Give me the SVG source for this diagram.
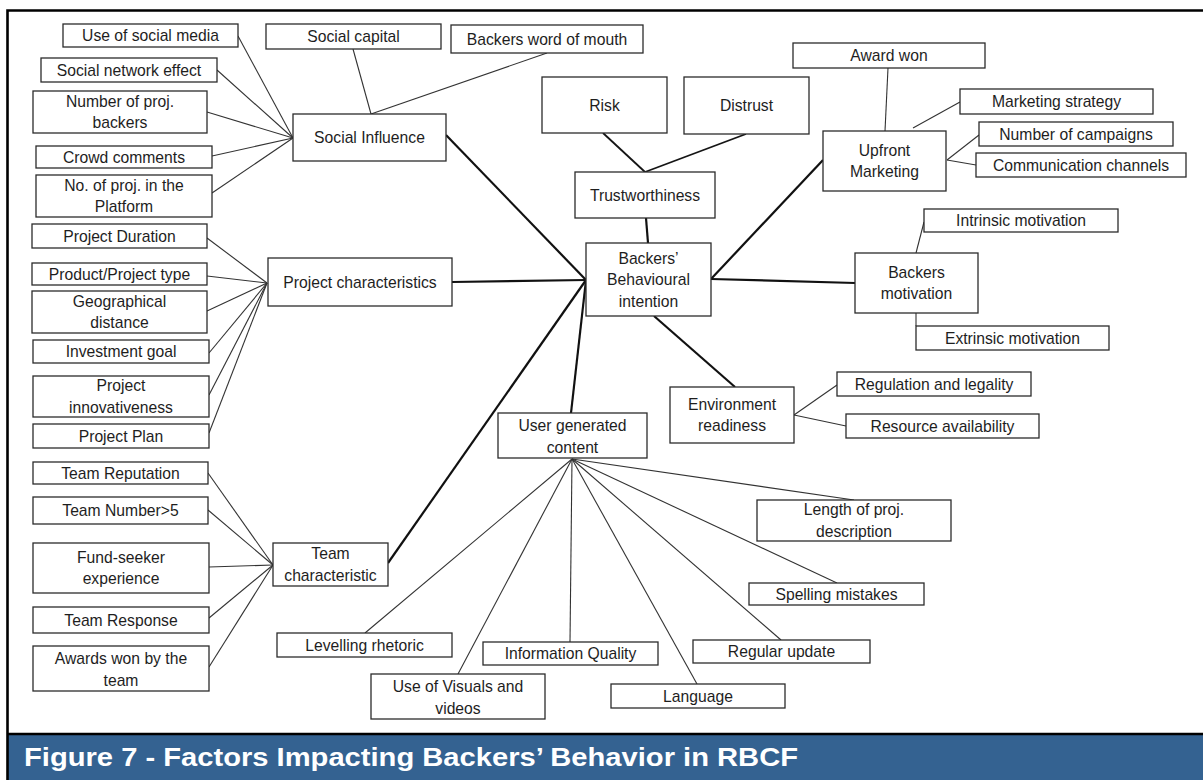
<svg xmlns="http://www.w3.org/2000/svg" width="1203" height="780" viewBox="0 0 1203 780">
  <style>
    .box { fill: #ffffff; stroke: #2b2b2b; stroke-width: 1.3; }
    .lbl { font-family: "Liberation Sans", Arial, sans-serif; font-size: 15.7px; fill: #1e1e1e; text-anchor: middle; }
    .thin { stroke: #333333; stroke-width: 1.1; fill: none; }
    .mid { stroke: #151515; stroke-width: 1.8; fill: none; }
    .main { stroke: #111111; stroke-width: 2.2; fill: none; }
    .title { font-family: "Liberation Sans", Arial, sans-serif; font-size: 25px; font-weight: bold; fill: #ffffff; }
  </style>

  <!-- page background and frame -->
  <rect x="0" y="0" width="1203" height="780" fill="#ffffff"/>
  <rect x="8" y="735" width="1195" height="45" fill="#346291"/>
  <path d="M7.5 780 V10.5 H1203" fill="none" stroke="#000000" stroke-width="2.6"/>
  <line x1="7.5" y1="734" x2="1203" y2="734" stroke="#000000" stroke-width="2.6"/>
  <text class="title" x="24" y="766" textLength="774" lengthAdjust="spacingAndGlyphs">Figure 7 - Factors Impacting Backers’ Behavior in RBCF</text>

  <!-- connectors -->
  <g id="connectors">
    <!-- social influence factors -->
    <line class="thin" x1="238" y1="36" x2="293" y2="138"/>
    <line class="thin" x1="217" y1="70" x2="293" y2="138"/>
    <line class="thin" x1="207" y1="112" x2="293" y2="138"/>
    <line class="thin" x1="212" y1="156" x2="293" y2="138"/>
    <line class="thin" x1="212" y1="193" x2="293" y2="138"/>
    <line class="thin" x1="353" y1="49" x2="371" y2="114"/>
    <line class="thin" x1="547" y1="53" x2="371" y2="114"/>
    <!-- project characteristics factors -->
    <line class="thin" x1="207" y1="238" x2="267" y2="283"/>
    <line class="thin" x1="207" y1="276" x2="267" y2="283"/>
    <line class="thin" x1="207" y1="311" x2="267" y2="283"/>
    <line class="thin" x1="209" y1="353" x2="267" y2="283"/>
    <line class="thin" x1="209" y1="395" x2="267" y2="283"/>
    <line class="thin" x1="209" y1="433" x2="267" y2="283"/>
    <!-- team factors -->
    <line class="thin" x1="208" y1="473" x2="273" y2="565"/>
    <line class="thin" x1="208" y1="510" x2="273" y2="565"/>
    <line class="thin" x1="209" y1="567" x2="273" y2="565"/>
    <line class="thin" x1="209" y1="618" x2="273" y2="565"/>
    <line class="thin" x1="209" y1="667" x2="273" y2="565"/>
    <!-- trustworthiness factors -->
    <line class="mid" x1="603" y1="133" x2="645" y2="172"/>
    <line class="mid" x1="746" y1="134" x2="645" y2="172"/>
    <!-- upfront marketing factors -->
    <line class="thin" x1="888" y1="68" x2="885" y2="131"/>
    <line class="thin" x1="913" y1="128" x2="960" y2="102"/>
    <line class="thin" x1="947" y1="160" x2="979" y2="135"/>
    <line class="thin" x1="947" y1="160" x2="976" y2="165"/>
    <!-- motivation factors -->
    <line class="thin" x1="916" y1="253" x2="924" y2="222"/>
    <line class="thin" x1="916" y1="313" x2="916" y2="326"/>
    <!-- environment factors -->
    <line class="thin" x1="794" y1="415" x2="837" y2="385"/>
    <line class="thin" x1="794" y1="415" x2="846" y2="426"/>
    <!-- user generated content factors -->
    <line class="thin" x1="572" y1="459" x2="854" y2="500"/>
    <line class="thin" x1="572" y1="459" x2="837" y2="583"/>
    <line class="thin" x1="572" y1="459" x2="781" y2="640"/>
    <line class="thin" x1="572" y1="459" x2="697" y2="684"/>
    <line class="thin" x1="572" y1="459" x2="570" y2="642"/>
    <line class="thin" x1="572" y1="459" x2="458" y2="674"/>
    <line class="thin" x1="572" y1="459" x2="365" y2="633"/>
    <!-- main links to behavioural intention -->
    <line class="main" x1="446" y1="135" x2="586" y2="280"/>
    <line class="main" x1="452" y1="282" x2="586" y2="280"/>
    <line class="main" x1="388" y1="563" x2="586" y2="280"/>
    <line class="main" x1="586" y1="280" x2="571" y2="413"/>
    <line class="main" x1="646" y1="218" x2="648" y2="243"/>
    <line class="main" x1="823" y1="160" x2="711" y2="279"/>
    <line class="main" x1="711" y1="279" x2="855" y2="283"/>
    <line class="main" x1="654" y1="316" x2="735" y2="387"/>
  </g>

  <!-- central node -->
  <g id="behavioural-intention">
    <rect class="box" x="586" y="243" width="125" height="73"/>
    <text class="lbl" x="648.5" y="263.6">Backers’</text>
    <text class="lbl" x="648.5" y="285.1">Behavioural</text>
    <text class="lbl" x="648.5" y="306.6">intention</text>
  </g>

  <!-- social influence -->
  <g id="social-influence">
    <rect class="box" x="293" y="114" width="153" height="47"/>
    <text class="lbl" x="369.5" y="143">Social Influence</text>
  </g>
  <g id="use-of-social-media">
    <rect class="box" x="63" y="24" width="175" height="23"/>
    <text class="lbl" x="150.5" y="41">Use of social media</text>
  </g>
  <g id="social-network-effect">
    <rect class="box" x="41" y="58" width="176" height="24"/>
    <text class="lbl" x="129" y="75.6">Social network effect</text>
  </g>
  <g id="number-of-backers">
    <rect class="box" x="33" y="91" width="174" height="42"/>
    <text class="lbl" x="120" y="106.9">Number of proj.</text>
    <text class="lbl" x="120" y="128.4">backers</text>
  </g>
  <g id="crowd-comments">
    <rect class="box" x="36" y="146" width="176" height="22"/>
    <text class="lbl" x="124" y="162.6">Crowd comments</text>
  </g>
  <g id="projects-in-platform">
    <rect class="box" x="36" y="175" width="176" height="42"/>
    <text class="lbl" x="124" y="190.9">No. of proj. in the</text>
    <text class="lbl" x="124" y="212.4">Platform</text>
  </g>
  <g id="social-capital">
    <rect class="box" x="266" y="24" width="175" height="25"/>
    <text class="lbl" x="353.5" y="42">Social capital</text>
  </g>
  <g id="word-of-mouth">
    <rect class="box" x="451" y="25" width="192" height="28"/>
    <text class="lbl" x="547" y="44.6">Backers word of mouth</text>
  </g>

  <!-- project characteristics -->
  <g id="project-characteristics">
    <rect class="box" x="268" y="258" width="184" height="48"/>
    <text class="lbl" x="360" y="287.6">Project characteristics</text>
  </g>
  <g id="project-duration">
    <rect class="box" x="32" y="224" width="175" height="24"/>
    <text class="lbl" x="119.5" y="241.6">Project Duration</text>
  </g>
  <g id="project-type">
    <rect class="box" x="32" y="263" width="175" height="22"/>
    <text class="lbl" x="119.5" y="279.6">Product/Project type</text>
  </g>
  <g id="geographical-distance">
    <rect class="box" x="32" y="291" width="175" height="42"/>
    <text class="lbl" x="119.5" y="306.9">Geographical</text>
    <text class="lbl" x="119.5" y="328.4">distance</text>
  </g>
  <g id="investment-goal">
    <rect class="box" x="33" y="340" width="176" height="23"/>
    <text class="lbl" x="121" y="357.1">Investment goal</text>
  </g>
  <g id="project-innovativeness">
    <rect class="box" x="33" y="376" width="176" height="41"/>
    <text class="lbl" x="121" y="391.4">Project</text>
    <text class="lbl" x="121" y="412.9">innovativeness</text>
  </g>
  <g id="project-plan">
    <rect class="box" x="33" y="424" width="176" height="24"/>
    <text class="lbl" x="121" y="441.6">Project Plan</text>
  </g>

  <!-- team characteristic -->
  <g id="team-characteristic">
    <rect class="box" x="273" y="543" width="115" height="43"/>
    <text class="lbl" x="330.5" y="559.4">Team</text>
    <text class="lbl" x="330.5" y="580.9">characteristic</text>
  </g>
  <g id="team-reputation">
    <rect class="box" x="33" y="462" width="175" height="22"/>
    <text class="lbl" x="120.5" y="478.6">Team Reputation</text>
  </g>
  <g id="team-number">
    <rect class="box" x="33" y="497" width="175" height="27"/>
    <text class="lbl" x="120.5" y="516.1">Team Number&gt;5</text>
  </g>
  <g id="fund-seeker-experience">
    <rect class="box" x="33" y="543" width="176" height="50"/>
    <text class="lbl" x="121" y="562.9">Fund-seeker</text>
    <text class="lbl" x="121" y="584.4">experience</text>
  </g>
  <g id="team-response">
    <rect class="box" x="33" y="607" width="176" height="26"/>
    <text class="lbl" x="121" y="625.6">Team Response</text>
  </g>
  <g id="awards-won-team">
    <rect class="box" x="33" y="646" width="176" height="45"/>
    <text class="lbl" x="121" y="664.4">Awards won by the</text>
    <text class="lbl" x="121" y="685.9">team</text>
  </g>

  <!-- trustworthiness -->
  <g id="trustworthiness">
    <rect class="box" x="575" y="172" width="140" height="46"/>
    <text class="lbl" x="645" y="200.6">Trustworthiness</text>
  </g>
  <g id="risk">
    <rect class="box" x="542" y="77" width="125" height="56"/>
    <text class="lbl" x="604.5" y="110.6">Risk</text>
  </g>
  <g id="distrust">
    <rect class="box" x="684" y="77" width="125" height="57"/>
    <text class="lbl" x="746.5" y="111.1">Distrust</text>
  </g>

  <!-- upfront marketing -->
  <g id="upfront-marketing">
    <rect class="box" x="823" y="131" width="123" height="60"/>
    <text class="lbl" x="884.5" y="155.9">Upfront</text>
    <text class="lbl" x="884.5" y="177.4">Marketing</text>
  </g>
  <g id="award-won">
    <rect class="box" x="793" y="43" width="192" height="25"/>
    <text class="lbl" x="889" y="61.1">Award won</text>
  </g>
  <g id="marketing-strategy">
    <rect class="box" x="960" y="89" width="193" height="25"/>
    <text class="lbl" x="1056.5" y="107.1">Marketing strategy</text>
  </g>
  <g id="number-of-campaigns">
    <rect class="box" x="979" y="122" width="194" height="24"/>
    <text class="lbl" x="1076" y="139.6">Number of campaigns</text>
  </g>
  <g id="communication-channels">
    <rect class="box" x="976" y="153" width="210" height="24"/>
    <text class="lbl" x="1081" y="170.6">Communication channels</text>
  </g>

  <!-- backers motivation -->
  <g id="backers-motivation">
    <rect class="box" x="855" y="253" width="123" height="60"/>
    <text class="lbl" x="916.5" y="277.9">Backers</text>
    <text class="lbl" x="916.5" y="299.4">motivation</text>
  </g>
  <g id="intrinsic-motivation">
    <rect class="box" x="924" y="209" width="194" height="23"/>
    <text class="lbl" x="1021" y="226.1">Intrinsic motivation</text>
  </g>
  <g id="extrinsic-motivation">
    <rect class="box" x="916" y="326" width="193" height="24"/>
    <text class="lbl" x="1012.5" y="343.6">Extrinsic motivation</text>
  </g>

  <!-- environment readiness -->
  <g id="environment-readiness">
    <rect class="box" x="670" y="387" width="124" height="56"/>
    <text class="lbl" x="732" y="409.9">Environment</text>
    <text class="lbl" x="732" y="431.4">readiness</text>
  </g>
  <g id="regulation-legality">
    <rect class="box" x="837" y="372" width="194" height="24"/>
    <text class="lbl" x="934" y="389.6">Regulation and legality</text>
  </g>
  <g id="resource-availability">
    <rect class="box" x="846" y="414" width="193" height="24"/>
    <text class="lbl" x="942.5" y="431.6">Resource availability</text>
  </g>

  <!-- user generated content -->
  <g id="user-generated-content">
    <rect class="box" x="498" y="413" width="149" height="45"/>
    <text class="lbl" x="572.5" y="431.4">User generated</text>
    <text class="lbl" x="572.5" y="452.9">content</text>
  </g>
  <g id="length-of-description">
    <rect class="box" x="757" y="500" width="194" height="41"/>
    <text class="lbl" x="854" y="515.4">Length of proj.</text>
    <text class="lbl" x="854" y="536.9">description</text>
  </g>
  <g id="spelling-mistakes">
    <rect class="box" x="749" y="583" width="175" height="22"/>
    <text class="lbl" x="836.5" y="599.6">Spelling mistakes</text>
  </g>
  <g id="regular-update">
    <rect class="box" x="693" y="640" width="177" height="23"/>
    <text class="lbl" x="781.5" y="657.1">Regular update</text>
  </g>
  <g id="language">
    <rect class="box" x="611" y="684" width="174" height="24"/>
    <text class="lbl" x="698" y="701.6">Language</text>
  </g>
  <g id="information-quality">
    <rect class="box" x="483" y="642" width="175" height="23"/>
    <text class="lbl" x="570.5" y="659.1">Information Quality</text>
  </g>
  <g id="visuals-and-videos">
    <rect class="box" x="371" y="674" width="174" height="45"/>
    <text class="lbl" x="458" y="692.4">Use of Visuals and</text>
    <text class="lbl" x="458" y="713.9">videos</text>
  </g>
  <g id="levelling-rhetoric">
    <rect class="box" x="277" y="633" width="175" height="24"/>
    <text class="lbl" x="364.5" y="650.6">Levelling rhetoric</text>
  </g>
</svg>
